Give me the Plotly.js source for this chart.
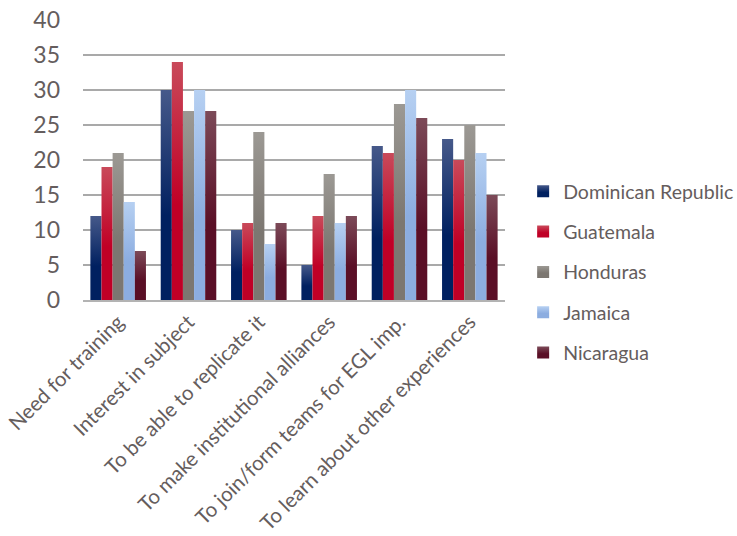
<!DOCTYPE html>
<html>
<head>
<meta charset="utf-8">
<script src="https://cdn.plot.ly/plotly-3.0.1.min.js"></script>
<style>html,body{margin:0;padding:0;background:#fff}#chart{width:737px;height:536px}</style>
</head>
<body>
<div id="chart"></div>
<script>
const categories = ["Need for training","Interest in subject","To be able to replicate it","To make institutional alliances","To join/form teams for EGL imp.","To learn about other experiences"];
const seriesNames = ["Dominican Republic","Guatemala","Honduras","Jamaica","Nicaragua"];
const dominicanRepublic = [12, 30, 10, 5, 22, 23];
const guatemala = [19, 34, 11, 12, 21, 20];
const honduras = [21, 27, 24, 18, 28, 25];
const jamaica = [14, 30, 8, 11, 30, 21];
const nicaragua = [7, 27, 11, 12, 26, 15];
const yTicks = [0,5,10,15,20,25,30,35,40];

const seriesValues = [dominicanRepublic, guatemala, honduras, jamaica, nicaragua];
const baseColors = ["#0f2d6b","#c2102e","#86817c","#9dbde8","#621a30"];
const gradTop = ["#46598a","#c94a5a","#9c9994","#b6d0f2","#7c4a58"];
const gradBottom = ["#002060","#c00026","#7c7771","#8cade0","#5a0f26"];

const traces = seriesNames.map((name, i) => ({
  type: "bar",
  name: name,
  x: categories,
  y: seriesValues[i],
  marker: {color: baseColors[i], line: {width: 0}},
  legendgroup: "g" + i,
  hoverinfo: "none"
}));

const textColor = "#655d5d";
const layout = {
  width: 737, height: 536,
  margin: {l: 83, r: 232, t: 20, b: 236, autoexpand: false},
  paper_bgcolor: "#ffffff", plot_bgcolor: "#ffffff",
  font: {family: "Lato, 'Open Sans', sans-serif", color: textColor},
  barmode: "group", bargap: 0.21, bargroupgap: 0,
  showlegend: true,
  legend: {
    x: 1.043, xanchor: "left", y: 0.1, yanchor: "middle",
    font: {size: 19.5, color: textColor},
    traceorder: "grouped", tracegroupgap: 12,
    itemwidth: 30, bgcolor: "rgba(0,0,0,0)"
  },
  xaxis: {
    type: "category", tickangle: -45, tickfont: {size: 20.5, color: textColor},
    showgrid: false, showline: true, linecolor: "#b3b3b3", linewidth: 2,
    ticks: "", automargin: false
  },
  yaxis: {
    range: [0, 40], tickvals: yTicks, ticktext: yTicks.map(String),
    tickfont: {size: 23, color: textColor},
    showgrid: true, gridcolor: "#a9a9a9", gridwidth: 1.5,
    zeroline: false, showline: false, ticks: "", ticklen: 0,
    ticklabelstandoff: 22,
    automargin: false
  }
};

Plotly.newPlot("chart", traces, layout, {staticPlot: true, displayModeBar: false}).then(gd => {
  const svg = gd.querySelector("svg.main-svg");
  const ns = "http://www.w3.org/2000/svg";
  let defs = svg.querySelector("defs");
  if (!defs) { defs = document.createElementNS(ns, "defs"); svg.insertBefore(defs, svg.firstChild); }
  seriesNames.forEach((n, i) => {
    const lg = document.createElementNS(ns, "linearGradient");
    lg.setAttribute("id", "grad" + i);
    lg.setAttribute("x1", "0"); lg.setAttribute("y1", "0");
    lg.setAttribute("x2", "0"); lg.setAttribute("y2", "1");
    const s1 = document.createElementNS(ns, "stop");
    s1.setAttribute("offset", "0"); s1.setAttribute("stop-color", gradTop[i]);
    const s2 = document.createElementNS(ns, "stop");
    s2.setAttribute("offset", "0.6"); s2.setAttribute("stop-color", gradBottom[i]);
    const s3 = document.createElementNS(ns, "stop");
    s3.setAttribute("offset", "1"); s3.setAttribute("stop-color", gradBottom[i]);
    lg.appendChild(s1); lg.appendChild(s2); lg.appendChild(s3);
    defs.appendChild(lg);
  });
  const traceGroups = gd.querySelectorAll(".barlayer .trace");
  traceGroups.forEach((tg, i) => {
    tg.querySelectorAll("path").forEach(p => { p.style.fill = "url(#grad" + i + ")"; });
  });
  const legendPts = gd.querySelectorAll(".legend .traces");
  legendPts.forEach((lt, i) => {
    lt.querySelectorAll(".legendpoints path").forEach(p => { p.style.fill = "url(#grad" + i + ")"; });
  });
});
</script>
</body>
</html>
